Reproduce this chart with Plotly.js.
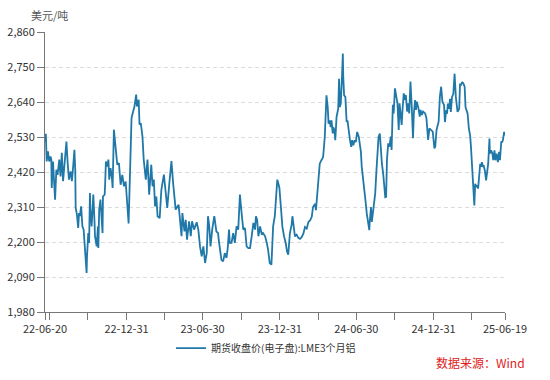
<!DOCTYPE html>
<html>
<head>
<meta charset="utf-8">
<script src="https://cdn.plot.ly/plotly-3.0.1.min.js"></script>
<style>html,body{margin:0;padding:0;background:#fff;}#chart{width:550px;height:380px;}</style>
</head>
<body>
<div id="chart"></div>
<script>
// LME 3-month aluminium, USD/t
var dates2022 = [
'2022-06-20','2022-06-22','2022-06-24','2022-06-27','2022-06-30','2022-07-03','2022-07-05','2022-07-06','2022-07-09','2022-07-14',
'2022-07-17','2022-07-20','2022-07-24','2022-07-27','2022-07-30','2022-08-02','2022-08-05','2022-08-10','2022-08-13','2022-08-16',
'2022-08-20','2022-08-23','2022-08-26','2022-08-29','2022-08-31','2022-09-01','2022-09-04','2022-09-07','2022-09-09','2022-09-11',
'2022-09-14','2022-09-17','2022-09-20','2022-09-24','2022-09-26','2022-09-27','2022-09-28','2022-10-01','2022-10-03','2022-10-05',
'2022-10-06','2022-10-09','2022-10-13','2022-10-16','2022-10-17','2022-10-21','2022-10-24','2022-10-25','2022-10-27','2022-10-30',
'2022-11-02','2022-11-04','2022-11-05','2022-11-09','2022-11-10','2022-11-12','2022-11-15','2022-11-18','2022-11-20','2022-11-23',
'2022-11-26','2022-11-28','2022-12-01','2022-12-05','2022-12-09','2022-12-13','2022-12-17','2022-12-21','2022-12-25','2022-12-29'];
var values2022 = [
2516,2540,2453,2485,2453,2469,2460,2370,2453,2333,
2427,2411,2459,2406,2480,2391,2437,2516,2448,2396,
2422,2391,2437,2490,2427,2307,2286,2244,2291,2281,
2312,2249,2239,2165,2144,2103,2155,2228,2197,2354,
2302,2249,2349,2260,2218,2186,2249,2181,2302,2333,
2249,2228,2343,2349,2375,2453,2437,2459,2396,2432,
2406,2370,2553,2490,2443,2448,2380,2411,2375,2390];

var dates2023 = [
'2023-01-02','2023-01-05','2023-01-08','2023-01-12','2023-01-16','2023-01-19','2023-01-23','2023-01-25','2023-01-29','2023-01-31',
'2023-02-03','2023-02-07','2023-02-10','2023-02-15','2023-02-19','2023-02-23','2023-02-28','2023-03-03','2023-03-06','2023-03-09',
'2023-03-12','2023-03-15','2023-03-20','2023-03-24','2023-03-30','2023-04-02','2023-04-07','2023-04-12','2023-04-17','2023-04-21',
'2023-04-23','2023-04-27','2023-05-04','2023-05-07','2023-05-11','2023-05-13','2023-05-18','2023-05-21','2023-05-24','2023-05-29',
'2023-06-02','2023-06-05','2023-06-10','2023-06-16','2023-06-20','2023-06-24','2023-06-28','2023-07-02','2023-07-06','2023-07-10',
'2023-07-13','2023-07-16','2023-07-19','2023-07-23','2023-07-28','2023-08-02','2023-08-06','2023-08-08','2023-08-11','2023-08-14',
'2023-08-18','2023-08-22','2023-08-26','2023-08-29','2023-09-01','2023-09-03','2023-09-07','2023-09-11','2023-09-15','2023-09-19',
'2023-09-23','2023-09-27','2023-10-01','2023-10-05','2023-10-09','2023-10-13','2023-10-17','2023-10-21','2023-10-25','2023-10-29',
'2023-11-02','2023-11-04','2023-11-07','2023-11-10','2023-11-14','2023-11-18','2023-11-21','2023-11-26','2023-11-30','2023-12-03',
'2023-12-07','2023-12-11','2023-12-14','2023-12-15','2023-12-19','2023-12-22','2023-12-25','2023-12-27','2023-12-30'];
var values2023 = [
2300,2258,2400,2590,2611,2626,2663,2626,2647,2569,
2574,2532,2459,2396,2459,2349,2443,2375,2396,2312,
2343,2281,2275,2364,2412,2375,2307,2385,2454,2385,
2354,2302,2317,2270,2218,2291,2233,2270,2207,2265,
2218,2265,2239,2262,2239,2186,2155,2186,2134,2165,
2281,2249,2186,2239,2281,2233,2228,2202,2176,2144,
2139,2165,2150,2181,2239,2197,2197,2228,2197,2249,
2239,2349,2291,2239,2244,2186,2181,2181,2218,2260,
2239,2281,2270,2218,2249,2223,2228,2218,2197,2176,
2134,2129,2218,2249,2281,2349,2396,2386,2370];

var dates2024 = [
'2024-01-03','2024-01-06','2024-01-10','2024-01-14','2024-01-17','2024-01-20','2024-01-24','2024-01-28','2024-01-30','2024-02-02',
'2024-02-05','2024-02-09','2024-02-13','2024-02-17','2024-02-21','2024-02-25','2024-02-29','2024-03-04','2024-03-08','2024-03-12',
'2024-03-16','2024-03-19','2024-03-24','2024-03-26','2024-03-29','2024-03-31','2024-04-03','2024-04-04','2024-04-08','2024-04-12',
'2024-04-16','2024-04-19','2024-04-20','2024-04-23','2024-04-25','2024-04-28','2024-04-30','2024-05-02','2024-05-05','2024-05-06',
'2024-05-09','2024-05-11','2024-05-14','2024-05-18','2024-05-20','2024-05-22','2024-05-24','2024-05-27','2024-05-29','2024-05-30',
'2024-06-01','2024-06-04','2024-06-07','2024-06-09','2024-06-12','2024-06-15','2024-06-18','2024-06-20','2024-06-23','2024-06-26',
'2024-06-29','2024-07-02','2024-07-06','2024-07-09','2024-07-11','2024-07-13','2024-07-17','2024-07-21','2024-07-25','2024-07-28',
'2024-07-31','2024-08-01','2024-08-04','2024-08-06','2024-08-08','2024-08-11','2024-08-14','2024-08-17','2024-08-20','2024-08-22',
'2024-08-25','2024-08-28','2024-08-30','2024-09-02','2024-09-05','2024-09-07','2024-09-09','2024-09-11','2024-09-14','2024-09-17',
'2024-09-20','2024-09-22','2024-09-25','2024-09-27','2024-09-30','2024-10-03','2024-10-06','2024-10-09','2024-10-11','2024-10-14',
'2024-10-16','2024-10-18','2024-10-21','2024-10-24','2024-10-26','2024-10-29','2024-11-01','2024-11-03','2024-11-06','2024-11-09',
'2024-11-12','2024-11-14','2024-11-17','2024-11-19','2024-11-21','2024-11-25','2024-11-28','2024-11-30','2024-12-03','2024-12-06',
'2024-12-11','2024-12-14','2024-12-16','2024-12-18','2024-12-21','2024-12-25','2024-12-29'];
var values2024 = [
2302,2249,2218,2197,2171,2160,2228,2254,2281,2239,
2218,2223,2213,2210,2215,2226,2247,2242,2263,2268,
2279,2310,2320,2300,2352,2373,2415,2446,2457,2467,
2530,2598,2661,2624,2572,2582,2561,2582,2541,2561,
2551,2520,2593,2619,2713,2624,2635,2719,2792,2719,
2661,2656,2577,2582,2541,2520,2499,2520,2504,2520,
2514,2546,2530,2493,2483,2436,2394,2341,2289,2258,
2237,2263,2310,2263,2289,2310,2352,2425,2478,2530,
2541,2478,2446,2415,2373,2341,2342,2458,2510,2500,
2531,2489,2631,2604,2683,2657,2636,2552,2636,2594,
2568,2615,2667,2646,2662,2610,2636,2604,2704,2625,
2526,2604,2646,2615,2641,2620,2594,2615,2599,2610,
2604,2589,2542,2521,2557,2552,2547];

var dates2025 = [
'2025-01-02','2025-01-04','2025-01-07','2025-01-10','2025-01-12','2025-01-15','2025-01-18','2025-01-21','2025-01-25','2025-01-27',
'2025-01-30','2025-02-01','2025-02-03','2025-02-06','2025-02-08','2025-02-10','2025-02-13','2025-02-16','2025-02-19','2025-02-22',
'2025-02-24','2025-02-26','2025-03-02','2025-03-04','2025-03-06','2025-03-09','2025-03-12','2025-03-15','2025-03-17','2025-03-20',
'2025-03-22','2025-03-25','2025-03-28','2025-03-30','2025-04-01','2025-04-03','2025-04-05','2025-04-07','2025-04-09','2025-04-11',
'2025-04-14','2025-04-16','2025-04-21','2025-04-23','2025-04-25','2025-04-28','2025-04-29','2025-05-02','2025-05-05','2025-05-08',
'2025-05-10','2025-05-13','2025-05-14','2025-05-17','2025-05-20','2025-05-22','2025-05-25','2025-05-27','2025-05-30','2025-06-02',
'2025-06-05','2025-06-07','2025-06-10','2025-06-12','2025-06-14','2025-06-17','2025-06-19'];
var values2025 = [
2494,2500,2552,2573,2578,2657,2688,2641,2630,2577,
2614,2603,2635,2619,2650,2609,2656,2666,2729,2656,
2635,2609,2619,2698,2692,2703,2698,2687,2624,2614,
2603,2556,2535,2499,2457,2425,2373,2315,2383,2373,
2378,2368,2446,2436,2451,2436,2441,2425,2394,2436,
2446,2525,2478,2488,2478,2457,2488,2457,2478,2451,
2483,2457,2514,2514,2520,2546,2535];

var seriesName = '期货收盘价(电子盘):LME3个月铝';
var unitLabel = '美元/吨';
var sourceLabel = '数据来源：Wind';
var tickDates = ['2022-06-20','2022-06-30','2022-09-30','2022-12-31','2023-03-31','2023-06-30','2023-09-30',
                 '2023-12-31','2024-03-31','2024-06-30','2024-09-30','2024-12-31','2025-03-31','2025-06-19'];
var tickLabels = ['22-06-20','','','22-12-31','','23-06-30','','23-12-31','','24-06-30','','24-12-31','','25-06-19'];
var yTicks = [1980,2090,2200,2310,2420,2530,2640,2750,2860];

var xs = dates2022.concat(dates2023, dates2024, dates2025);
var ys = values2022.concat(values2023, values2024, values2025);

var FONT = '"Noto Sans CJK SC", "Noto Sans", sans-serif';

var trace = {
  x: xs, y: ys, type: 'scatter', mode: 'lines', name: seriesName,
  line: {color: '#1f78a8', width: 1.8}
};

var layout = {
  width: 550, height: 380,
  margin: {l: 45, r: 45, t: 32, b: 68, pad: 0},
  paper_bgcolor: '#ffffff', plot_bgcolor: '#ffffff',
  font: {family: FONT, size: 11, color: '#333'},
  showlegend: true,
  legend: {
    orientation: 'h', x: 0.274, xanchor: 'left', y: -0.129, yanchor: 'middle',
    font: {family: FONT, size: 10, color: '#333'}, bgcolor: 'rgba(0,0,0,0)'
  },
  xaxis: {
    type: 'date', range: ['2022-06-20', '2025-06-19'],
    tickmode: 'array', tickvals: tickDates, ticktext: tickLabels,
    showgrid: false, zeroline: false,
    showline: true, linecolor: '#777', linewidth: 1,
    ticks: 'outside', ticklen: 7, tickcolor: '#777', tickwidth: 1,
    tickfont: {family: FONT, size: 11, color: '#333'}, tickangle: 0
  },
  yaxis: {
    range: [1980, 2860], tickmode: 'array', tickvals: yTicks,
    ticktext: yTicks.map(function(v){ return v.toLocaleString('en-US'); }),
    showgrid: true, gridcolor: '#dcdcdc', griddash: '4px,3px', gridwidth: 1,
    zeroline: false, showline: true, linecolor: '#777', linewidth: 1,
    ticks: 'outside', ticklen: 7, tickcolor: '#777', tickwidth: 1,
    tickfont: {family: FONT, size: 11, color: '#333'}
  },
  annotations: [
    {text: unitLabel, xref: 'paper', yref: 'paper', x: -0.035, y: 1.061,
     xanchor: 'left', yanchor: 'middle', showarrow: false,
     font: {family: FONT, size: 11, color: '#555'}},
    {text: sourceLabel, xref: 'paper', yref: 'paper', x: 1.048, y: -0.179,
     xanchor: 'right', yanchor: 'middle', showarrow: false,
     font: {family: FONT, size: 12, color: '#e02020'}}
  ]
};

Plotly.newPlot('chart', [trace], layout, {displayModeBar: false, staticPlot: true});
</script>
</body>
</html>
